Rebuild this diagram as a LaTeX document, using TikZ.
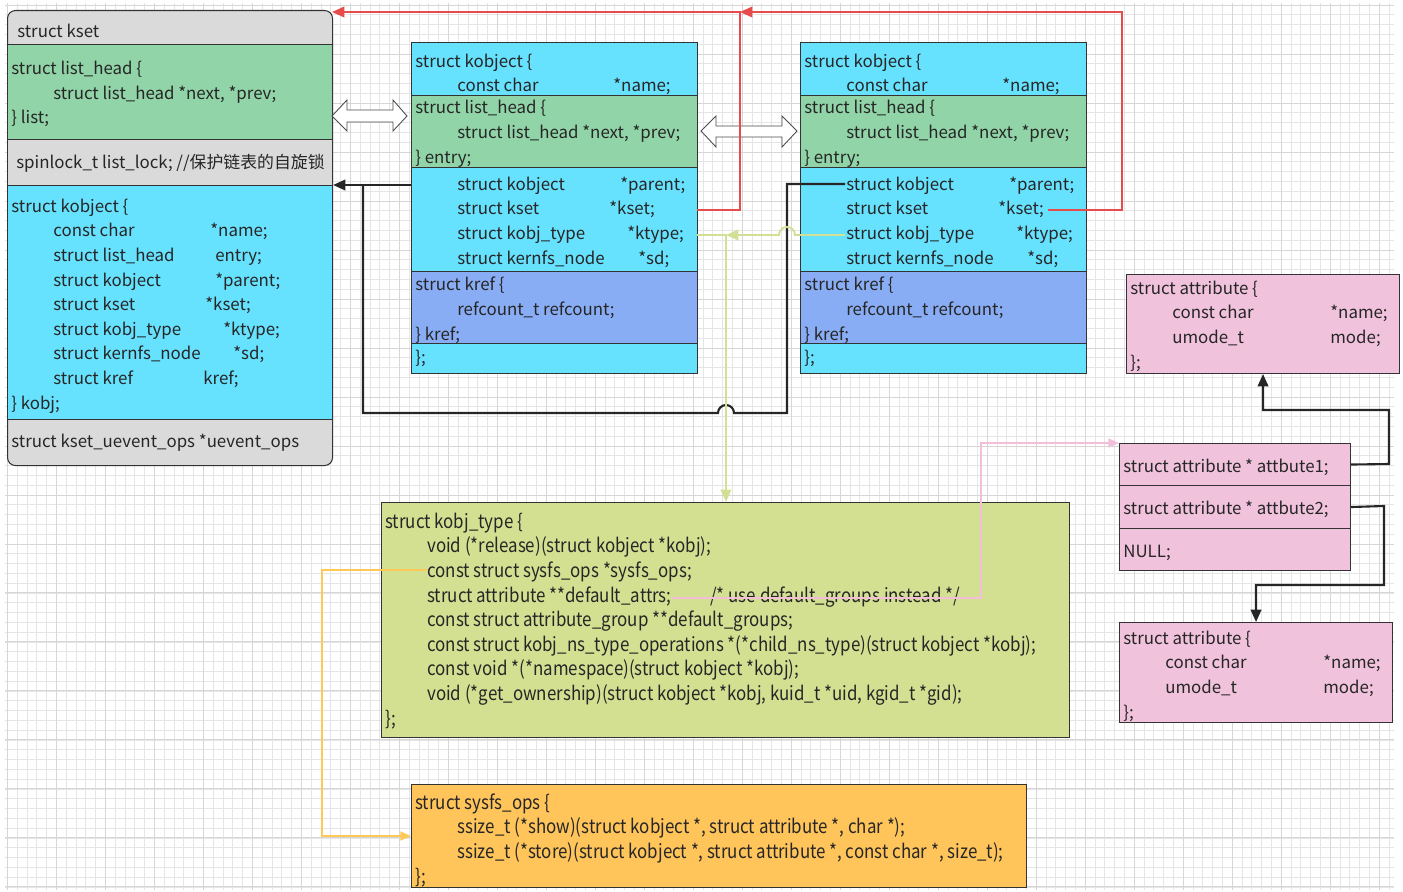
\documentclass[tikz,border=0pt]{standalone}
\usepackage{fontspec}
\setmainfont{Noto Sans CJK SC}
\newfontfamily\narrowfont[FakeStretch=0.875]{Noto Sans CJK SC}
\usepackage{tikz}
\usetikzlibrary{arrows.meta,positioning,calc}
\definecolor{ksgrey}{HTML}{DADADA}
\definecolor{kgreen}{HTML}{91D4A7}
\definecolor{kcyan}{HTML}{66E1FE}
\definecolor{kblue}{HTML}{89ADF4}
\definecolor{kpink}{HTML}{F0C2DB}
\definecolor{klime}{HTML}{D3E091}
\definecolor{korange}{HTML}{FFC45A}
\definecolor{kred}{HTML}{E74C4C}
\definecolor{klimeln}{HTML}{D2E096}
\definecolor{kpinkln}{HTML}{F2BFD8}
\definecolor{korangeln}{HTML}{FFC857}
\newlength\px
\setlength\px{0.02cm}
\tikzset{
  ds/sec/.style={draw=black!80, anchor=north west, inner sep=0pt, line width=0.6pt},
  % multi-line texts: the base anchor sits on the last line
  ds/code/.style={anchor=base west, align=left, inner sep=0pt, text=black!85, yshift=-0.04cm,
    font=\fontsize{9.6pt}{14pt}\selectfont},
  ds/wide/.style={ds/code, font=\narrowfont\fontsize{11pt}{14pt}\selectfont},
  ds/minor/.style={draw=black!10, line width=0.35pt},
  ds/major/.style={draw=black!16, line width=0.45pt},
  ds/dbl/.style={draw=black!70, fill=white, line width=0.5pt},
  ds/line/.style={draw=black!85, line width=1.2pt},
  ds/blk/.style={ds/line, -{Triangle[length=7pt,width=6pt]}},
  ds/red/.style={draw=kred, line width=1.1pt, -{Triangle[length=7pt,width=6pt]}},
  ds/lime/.style={draw=klimeln, line width=1.1pt, -{Triangle[length=7pt,width=6pt]}},
  ds/pink/.style={draw=kpinkln, line width=1.1pt, -{Triangle[length=6pt,width=5pt]}},
  ds/orng/.style={draw=korangeln, line width=1.1pt, -{Triangle[length=6pt,width=5pt]}}
}
\newcommand{\codeind}{\hspace*{42\px}}
\newcommand{\cfield}[3]{\makebox[#1\px][l]{#2}#3}

\begin{document}
\begin{tikzpicture}[x=0.02cm, y=-0.02cm]
  \useasboundingbox (0,0) rectangle (1403,892);
  \begin{scope}[shift={(7.3,5)}]
    \draw[ds/minor, step=0.196cm] (-0.046cm,0.04cm) grid (27.73cm,-17.7cm);
    \draw[ds/major, step=0.98cm] (-0.046cm,0.04cm) grid (27.73cm,-17.7cm);
  \end{scope}

  % struct kset
  \node[ds/sec, fill=ksgrey, rounded corners=4.5pt, minimum width=325\px, minimum height=455\px] (kset) at (7,10) {};
  \node[ds/sec, fill=kgreen, minimum width=325\px, minimum height=95\px] (kslist) at (7,44) {};
  \node[ds/sec, fill=ksgrey, minimum width=325\px, minimum height=46\px] (kslock) at (7,139) {};
  \node[ds/sec, fill=kcyan, minimum width=325\px, minimum height=234\px] (ksobj) at (7,185) {};
  \node[ds/code] (ksheadt) at (17,36) {struct kset};
  \node[ds/code] (kslistt) at (11,122) {struct list\_head \{\\ \codeind struct list\_head *next, *prev;\\ \} list;};
  \node[ds/code] (kslockt) at (16,167) {spinlock\_t list\_lock; //保护链表的自旋锁};
  \node[ds/code] (ksobjt) at (11,407) {struct kobject \{\\
    \codeind\cfield{157}{const char}{*name;}\\
    \codeind\cfield{162}{struct list\_head}{entry;}\\
    \codeind\cfield{162}{struct kobject}{*parent;}\\
    \codeind\cfield{152}{struct kset}{*kset;}\\
    \codeind\cfield{170}{struct kobj\_type}{*ktype;}\\
    \codeind\cfield{180}{struct kernfs\_node}{*sd;}\\
    \codeind\cfield{150}{struct kref}{kref;}\\
    \} kobj;};
  \node[ds/code] (ksopst) at (11,445) {struct kset\_uevent\_ops *uevent\_ops};

  % first kobject
  \node[ds/sec, fill=kcyan, minimum width=286\px, minimum height=53\px] (ko1name) at (411,42) {};
  \node[ds/sec, fill=kgreen, minimum width=286\px, minimum height=72\px] (ko1entry) at (411,95) {};
  \node[ds/sec, fill=kcyan, minimum width=286\px, minimum height=104\px] (ko1ptr) at (411,167) {};
  \node[ds/sec, fill=kblue, minimum width=286\px, minimum height=72\px] (ko1kref) at (411,271) {};
  \node[ds/sec, fill=kcyan, minimum width=286\px, minimum height=30\px] (ko1end) at (411,343) {};
  \node[ds/code] (ko1namet) at (415,90) {struct kobject \{\\ \codeind\cfield{156}{const char}{*name;}};
  \node[ds/code] (ko1entryt) at (415,161) {struct list\_head \{\\ \codeind struct list\_head *next, *prev;\\ \} entry;};
  \node[ds/code] (ko1ptrt) at (457,262) {\cfield{163}{struct kobject}{*parent;}\\
    \cfield{152}{struct kset}{*kset;}\\
    \cfield{170}{struct kobj\_type}{*ktype;}\\
    \cfield{181}{struct kernfs\_node}{*sd;}};
  \node[ds/code] (ko1kreft) at (415,338) {struct kref \{\\ \codeind refcount\_t refcount;\\ \} kref;};
  \node[ds/code] (ko1endt) at (415,361) {\};};

  % second kobject
  \node[ds/sec, fill=kcyan, minimum width=286\px, minimum height=53\px] (ko2name) at (800,42) {};
  \node[ds/sec, fill=kgreen, minimum width=286\px, minimum height=72\px] (ko2entry) at (800,95) {};
  \node[ds/sec, fill=kcyan, minimum width=286\px, minimum height=104\px] (ko2ptr) at (800,167) {};
  \node[ds/sec, fill=kblue, minimum width=286\px, minimum height=72\px] (ko2kref) at (800,271) {};
  \node[ds/sec, fill=kcyan, minimum width=286\px, minimum height=30\px] (ko2end) at (800,343) {};
  \node[ds/code] (ko2namet) at (804,90) {struct kobject \{\\ \codeind\cfield{156}{const char}{*name;}};
  \node[ds/code] (ko2entryt) at (804,161) {struct list\_head \{\\ \codeind struct list\_head *next, *prev;\\ \} entry;};
  \node[ds/code] (ko2ptrt) at (846,262) {\cfield{163}{struct kobject}{*parent;}\\
    \cfield{152}{struct kset}{*kset;}\\
    \cfield{170}{struct kobj\_type}{*ktype;}\\
    \cfield{181}{struct kernfs\_node}{*sd;}};
  \node[ds/code] (ko2kreft) at (804,338) {struct kref \{\\ \codeind refcount\_t refcount;\\ \} kref;};
  \node[ds/code] (ko2endt) at (804,361) {\};};

  % list links
  \draw[ds/dbl] (332,116) -- (347,100) -- (347,110) -- (393,110) -- (393,100) -- (407,116)
    -- (393,131) -- (393,122) -- (347,122) -- (347,131) -- cycle;
  \draw[ds/dbl] (701,131) -- (716,116) -- (716,126) -- (782,126) -- (782,116) -- (797,131)
    -- (782,147) -- (782,137) -- (716,137) -- (716,147) -- cycle;

  % attributes
  \node[ds/sec, fill=kpink, minimum width=273\px, minimum height=99\px] (attr1) at (1126,274) {};
  \node[ds/code] (attr1t) at (1130,366) {struct attribute \{\\
    \codeind\cfield{158}{const char}{*name;}\\
    \codeind\cfield{158}{umode\_t}{mode;}\\ \};};
  \node[ds/sec, fill=kpink, minimum width=231\px, minimum height=42\px] (arr1) at (1119,443) {};
  \node[ds/sec, fill=kpink, minimum width=231\px, minimum height=43\px] (arr2) at (1119,485) {};
  \node[ds/sec, fill=kpink, minimum width=231\px, minimum height=42\px] (arrnull) at (1119,528) {};
  \node[ds/code] (arr1t) at (1123,470) {struct attribute * attbute1;};
  \node[ds/code] (arr2t) at (1123,512) {struct attribute * attbute2;};
  \node[ds/code] (arrnullt) at (1123,555) {NULL;};
  \node[ds/sec, fill=kpink, minimum width=273\px, minimum height=100\px] (attr2) at (1119,622) {};
  \node[ds/code] (attr2t) at (1123,716) {struct attribute \{\\
    \codeind\cfield{158}{const char}{*name;}\\
    \codeind\cfield{158}{umode\_t}{mode;}\\ \};};

  % kobj_type and sysfs_ops
  \node[ds/sec, fill=klime, minimum width=688\px, minimum height=235\px] (ktype) at (381,502) {};
  \node[ds/wide] (ktypet) at (385,723) {struct kobj\_type \{\\
    \codeind void (*release)(struct kobject *kobj);\\
    \codeind const struct sysfs\_ops *sysfs\_ops;\\
    \codeind\cfield{283}{struct attribute **default\_attrs;}{/* use default\_groups instead */}\\
    \codeind const struct attribute\_group **default\_groups;\\
    \codeind const struct kobj\_ns\_type\_operations *(*child\_ns\_type)(struct kobject *kobj);\\
    \codeind const void *(*namespace)(struct kobject *kobj);\\
    \codeind void (*get\_ownership)(struct kobject *kobj, kuid\_t *uid, kgid\_t *gid);\\
    \};};
  \node[ds/sec, fill=korange, minimum width=615\px, minimum height=103\px] (sysops) at (411,784) {};
  \node[ds/wide] (sysopst) at (415,881) {struct sysfs\_ops \{\\
    \codeind ssize\_t (*show)(struct kobject *, struct attribute *, char *);\\
    \codeind ssize\_t (*store)(struct kobject *, struct attribute *, const char *, size\_t);\\
    \};};

  % connectors
  \coordinate (rk1) at (697,210);
  \coordinate (rk2) at (1048,210);
  \coordinate (redjoin) at (740,12);
  \coordinate (ksettop) at (332,12);
  \draw[ds/red] (rk1) -- (740,210) -- (redjoin) -- (ksettop);
  \draw[ds/red] (rk2) -- (1122,210) -- (1122,12) -- (redjoin);

  \draw[ds/blk] (ko1ptr.west |- ksobj.north east) -- (ksobj.north east);
  \coordinate (pp2) at (845,184);
  \draw[ds/line] (pp2) -- (787,184) -- (787,413) -- (734,413)
    arc[start angle=0, end angle=-180, radius=8] -- (363,413) -- (363,185);

  \coordinate (kt1) at (697,235);
  \coordinate (kt2) at (845,235);
  \coordinate (limejoin) at (726,235);
  \draw[ds/lime] (kt1) -- (limejoin) -- (limejoin |- ktype.north);
  \draw[ds/lime] (kt2) -- (795,235) arc[start angle=0, end angle=-180, radius=8] -- (limejoin);

  \coordinate (da) at (672,598);
  \draw[ds/pink] (da) -- (981,598) |- (arr1.north west);
  \coordinate (so) at (427,570);
  \draw[ds/orng] (so) -- (322,570) |- (sysops.west);

  \draw[ds/blk] (arr1.east) -- (1389,464) -- (1389,410) -| (attr1.south);
  \draw[ds/blk] (arr2.east) -- (1384,506) -- (1384,585) -| (attr2.north);
\end{tikzpicture}
\end{document}
